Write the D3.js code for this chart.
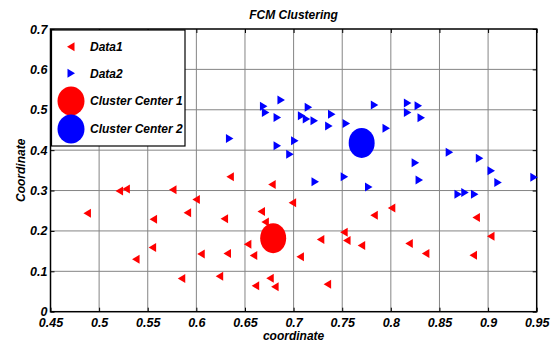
<!DOCTYPE html>
<html>
<head>
<meta charset="utf-8">
<script src="https://cdn.jsdelivr.net/npm/d3@7"></script>
<style>
  body { margin: 0; background: #fff; }
  text { font-family: "Liberation Sans", Arial, sans-serif; font-weight: bold; font-style: italic; }
</style>
</head>
<body>
<svg id="chart" width="553" height="345"></svg>
<script>
// Data1 (red, cluster 1)
var data1X = [0.488, 0.521, 0.528, 0.576, 0.600, 0.591, 0.556, 0.555, 0.538, 0.605, 0.585,
  0.635, 0.678, 0.699, 0.667, 0.629, 0.671, 0.752, 0.755, 0.770, 0.728, 0.653, 0.632, 0.659,
  0.707, 0.624, 0.676, 0.661, 0.681, 0.735, 0.783, 0.801, 0.888, 0.903, 0.819, 0.836, 0.885];
var data1Y = [0.244, 0.299, 0.304, 0.302, 0.278, 0.245, 0.229, 0.159, 0.130, 0.143, 0.082,
  0.334, 0.315, 0.270, 0.248, 0.230, 0.222, 0.197, 0.176, 0.164, 0.179, 0.167, 0.144, 0.139,
  0.136, 0.088, 0.083, 0.064, 0.062, 0.068, 0.239, 0.257, 0.233, 0.187, 0.169, 0.144, 0.140];

// Data2 (blue, cluster 2)
var data2X = [0.860, 0.891, 0.825, 0.903, 0.829, 0.910, 0.947, 0.869, 0.876, 0.886,
  0.722, 0.752, 0.777, 0.687, 0.669, 0.671, 0.683, 0.715, 0.708, 0.713, 0.721, 0.739,
  0.736, 0.754, 0.783, 0.634, 0.701, 0.683, 0.696, 0.817, 0.828, 0.817, 0.831, 0.795];
var data2Y = [0.395, 0.380, 0.369, 0.349, 0.326, 0.320, 0.333, 0.291, 0.295, 0.291,
  0.322, 0.334, 0.309, 0.524, 0.509, 0.493, 0.481, 0.506, 0.485, 0.477, 0.473, 0.489,
  0.460, 0.466, 0.512, 0.429, 0.423, 0.411, 0.390, 0.517, 0.510, 0.493, 0.480, 0.454];

var centerX = [0.679, 0.770];
var centerY = [0.182, 0.418];
var centerColors = ["#ff0000", "#0000ff"];

var xTicks = [0.45, 0.5, 0.55, 0.6, 0.65, 0.7, 0.75, 0.8, 0.85, 0.9, 0.95];
var yTicks = [0, 0.1, 0.2, 0.3, 0.4, 0.5, 0.6, 0.7];
var legendLabels = ["Data1", "Data2", "Cluster Center 1", "Cluster Center 2"];

var svg = d3.select("#chart");
var pLeft = 50.5, pRight = 536.7, pTop = 29, pBottom = 311.7;

var x = d3.scaleLinear().domain([0.45, 0.95]).range([pLeft, pRight]);
var y = d3.scaleLinear().domain([0, 0.7]).range([pBottom, pTop]);

// grid
var grid = svg.append("g");
grid.selectAll("line.v").data(xTicks.slice(1, -1)).enter().append("line")
  .attr("x1", function (d) { return x(d); }).attr("x2", function (d) { return x(d); })
  .attr("y1", pTop).attr("y2", pBottom)
  .attr("stroke", "#858585").attr("stroke-width", 1);
grid.selectAll("line.h").data(yTicks.slice(1, -1)).enter().append("line")
  .attr("y1", function (d) { return y(d); }).attr("y2", function (d) { return y(d); })
  .attr("x1", pLeft).attr("x2", pRight)
  .attr("stroke", "#858585").attr("stroke-width", 1);

// axes
var fmt = function (d) { return d === 0 ? "0" : d3.format("")(d); };
svg.append("g").attr("transform", "translate(0," + pBottom + ")")
  .call(d3.axisBottom(x).tickValues(xTicks).tickFormat(fmt).tickSize(-4).tickPadding(6))
  .call(function (g) { g.select(".domain").remove(); })
  .selectAll("text").attr("font-size", 12.5).attr("fill", "#000").attr("font-family", null);
svg.append("g").attr("transform", "translate(" + pLeft + ",0)")
  .call(d3.axisLeft(y).tickValues(yTicks).tickFormat(fmt).tickSize(-4).tickPadding(3))
  .call(function (g) { g.select(".domain").remove(); })
  .selectAll("text").attr("font-size", 12.5).attr("fill", "#000").attr("font-family", null);
svg.append("g").attr("transform", "translate(0," + pTop + ")")
  .call(d3.axisTop(x).tickValues(xTicks).tickFormat("").tickSize(-4))
  .call(function (g) { g.select(".domain").remove(); });
svg.append("g").attr("transform", "translate(" + pRight + ",0)")
  .call(d3.axisRight(y).tickValues(yTicks).tickFormat("").tickSize(-4))
  .call(function (g) { g.select(".domain").remove(); });

svg.append("rect").attr("x", pLeft).attr("y", pTop)
  .attr("width", pRight - pLeft).attr("height", pBottom - pTop)
  .attr("fill", "none").attr("stroke", "#000").attr("stroke-width", 1.5);

// markers
function leftTri(cx, cy) {
  return "M" + (cx - 4) + "," + cy + "L" + (cx + 3.5) + "," + (cy - 4.5) + "L" + (cx + 3.5) + "," + (cy + 4.5) + "Z";
}
function rightTri(cx, cy) {
  return "M" + (cx + 4) + "," + cy + "L" + (cx - 3.5) + "," + (cy - 4.5) + "L" + (cx - 3.5) + "," + (cy + 4.5) + "Z";
}

svg.append("g").selectAll("path").data(data1X).enter().append("path")
  .attr("d", function (d, i) { return leftTri(x(d), y(data1Y[i])); })
  .attr("fill", "#ff0000");
svg.append("g").selectAll("path").data(data2X).enter().append("path")
  .attr("d", function (d, i) { return rightTri(x(d), y(data2Y[i])); })
  .attr("fill", "#0000ff");

svg.append("g").selectAll("ellipse").data(centerX).enter().append("ellipse")
  .attr("cx", function (d) { return x(d); })
  .attr("cy", function (d, i) { return y(centerY[i]); })
  .attr("rx", 13).attr("ry", 15)
  .attr("fill", function (d, i) { return centerColors[i]; });

// legend
var lg = svg.append("g");
lg.append("rect").attr("x", 51.5).attr("y", 30).attr("width", 133.5).attr("height", 116)
  .attr("fill", "#fff").attr("stroke", "#000").attr("stroke-width", 1.2);
var rows = [46.7, 73.3, 101, 129];
lg.append("path").attr("d", leftTri(71, rows[0])).attr("fill", "#ff0000");
lg.append("path").attr("d", rightTri(71, rows[1])).attr("fill", "#0000ff");
lg.append("ellipse").attr("cx", 71).attr("cy", rows[2]).attr("rx", 13.5).attr("ry", 14.5).attr("fill", "#ff0000");
lg.append("ellipse").attr("cx", 71).attr("cy", rows[3]).attr("rx", 13.5).attr("ry", 14.5).attr("fill", "#0000ff");
lg.selectAll("text").data(legendLabels).enter().append("text")
  .attr("x", 90).attr("y", function (d, i) { return rows[i]; })
  .attr("dy", "0.35em").attr("font-size", 12).text(function (d) { return d; });

// titles
svg.append("text").attr("x", (pLeft + pRight) / 2).attr("y", 19)
  .attr("text-anchor", "middle").attr("font-size", 12).text("FCM Clustering");
svg.append("text").attr("x", (pLeft + pRight) / 2).attr("y", 340)
  .attr("text-anchor", "middle").attr("font-size", 12).text("coordinate");
svg.append("text").attr("transform", "translate(24.5," + (pTop + pBottom) / 2 + ") rotate(-90)")
  .attr("text-anchor", "middle").attr("font-size", 12).text("Coordinate");
</script>
</body>
</html>
